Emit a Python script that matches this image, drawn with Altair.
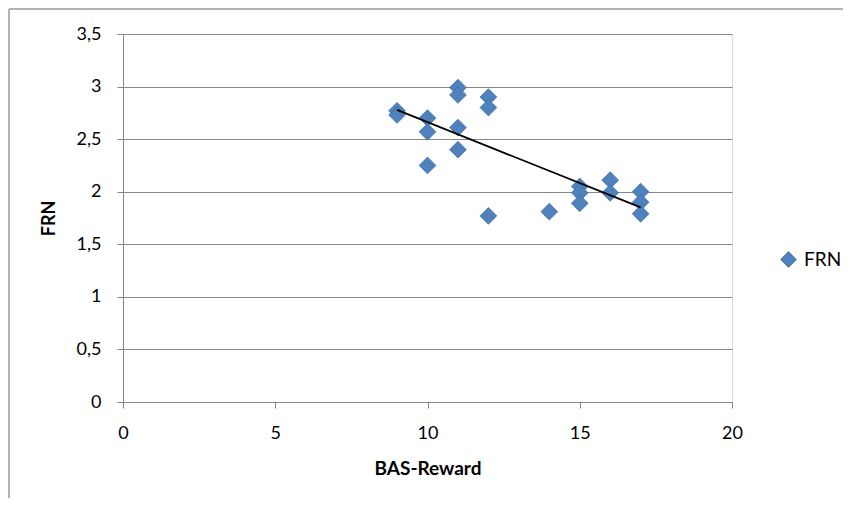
import altair as alt
import pandas as pd

# BAS-Reward scores and FRN values
bas_reward = [9, 9, 10, 10, 10, 11, 11, 11, 11, 12, 12, 12, 14, 15, 15, 15, 16, 16, 17, 17, 17]
frn = [2.77, 2.73, 2.70, 2.57, 2.25, 2.99, 2.92, 2.61, 2.40, 2.90, 2.80, 1.77, 1.81,
       2.05, 1.99, 1.89, 2.11, 1.99, 2.00, 1.90, 1.79]
series = ["FRN"] * len(frn)

x_ticks = [0, 5, 10, 15, 20]
y_ticks = [0, 0.5, 1, 1.5, 2, 2.5, 3, 3.5]

df = pd.DataFrame({"bas": bas_reward, "frn": frn, "series": series})

FONT = "Lato"
GRAY = "#868686"
BLUE = "#4F81BD"

x_enc = alt.X(
    "bas:Q",
    scale=alt.Scale(domain=[0, 20], nice=False, zero=False),
    axis=alt.Axis(
        values=x_ticks, title="BAS-Reward", grid=False, labelFlush=False,
        domainColor=GRAY, tickColor=GRAY, tickSize=6,
        labelFont=FONT, labelFontSize=18, labelColor="black", labelPadding=16,
        titleFont=FONT, titleFontSize=19, titleFontWeight="bold", titleColor="black",
        titleY=66, titleBaseline="middle",
    ),
)
y_enc = alt.Y(
    "frn:Q",
    scale=alt.Scale(domain=[0, 3.5], nice=False),
    axis=alt.Axis(
        values=y_ticks, title="FRN", grid=True, gridColor=GRAY, labelFlush=False,
        domainColor=GRAY, tickColor=GRAY, tickSize=6,
        labelFont=FONT, labelFontSize=18, labelColor="black", labelPadding=16,
        labelExpr="replace(format(datum.value, '~g'), '.', ',')",
        titleFont=FONT, titleFontSize=18, titleFontWeight="bold", titleColor="black",
        titleX=-74, titleY=184, titleBaseline="middle", titleAngle=-90,
    ),
)

points = alt.Chart(df).mark_point(
    shape="diamond", filled=True, size=280, opacity=1,
    stroke="#3F70AA", strokeWidth=0.8,
).encode(
    x=x_enc,
    y=y_enc,
    color=alt.Color(
        "series:N",
        scale=alt.Scale(range=[BLUE]),
        legend=alt.Legend(
            title=None, orient="none", legendX=656, legendY=216,
            symbolType="diamond", symbolSize=250, symbolFillColor=BLUE,
            symbolStrokeColor="#3F70AA", symbolStrokeWidth=0.8,
            labelFont=FONT, labelFontSize=19, labelColor="black", labelOffset=6,
        ),
    ),
)

trend = alt.Chart(df).transform_regression("bas", "frn").mark_line(
    color="black", strokeWidth=1.8
).encode(x="bas:Q", y="frn:Q")

frame_data = alt.Data(values=[{}])
frame_left = alt.Chart(frame_data).mark_rule(color="#9a9a9a", strokeWidth=1.5).encode(
    x=alt.value(-114), y=alt.value(-25), y2=alt.value(480)
)
frame_top = alt.Chart(frame_data).mark_rule(color="#9a9a9a", strokeWidth=1.5).encode(
    x=alt.value(-114), x2=alt.value(720), y=alt.value(-25)
)

chart = alt.layer(frame_left, frame_top, points, trend).properties(
    width=609, height=368,
    autosize=alt.AutoSizeParams(type="none"),
    padding={"left": 115, "top": 26, "right": 111, "bottom": 96},
).configure_view(stroke=None).configure(background="white")

chart.save("out.html", embed_options={"renderer": "svg", "actions": False})
